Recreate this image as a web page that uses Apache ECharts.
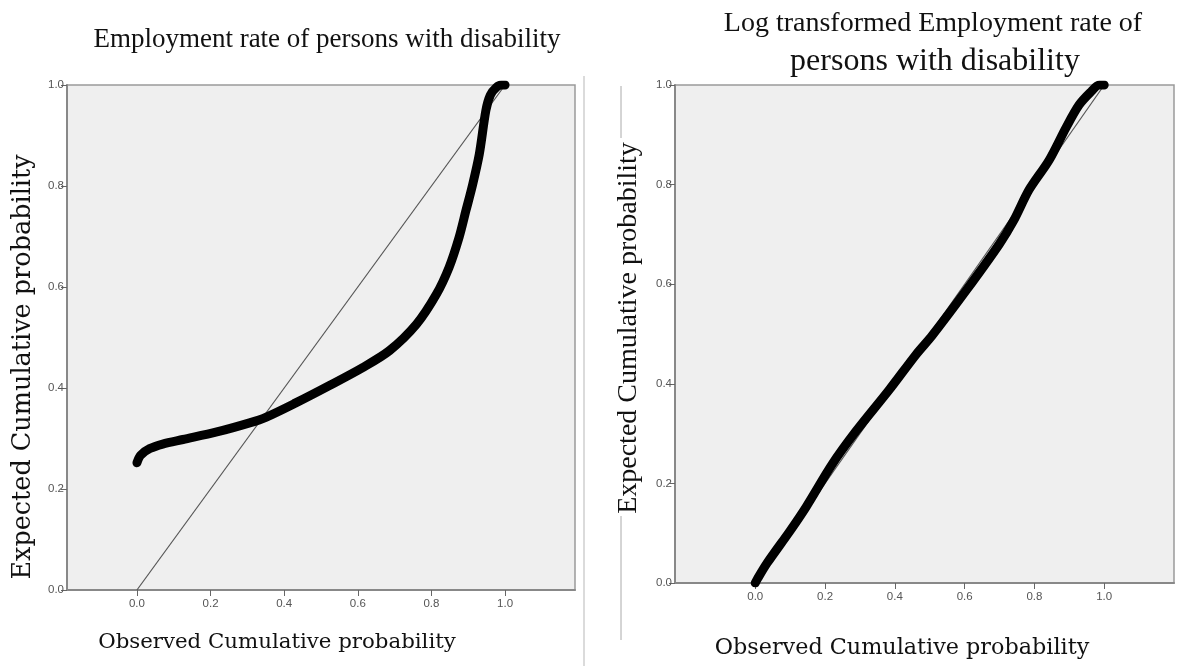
<!DOCTYPE html>
<html>
<head>
<meta charset="utf-8">
<script src="https://cdn.jsdelivr.net/npm/echarts@6/dist/echarts.min.js"></script>
<style>html,body{margin:0;padding:0;background:#fff;}#c{width:1185px;height:666px;}</style>
</head>
<body>
<div id="c"></div>
<script>
// ---- data ----
const leftTitle = 'Employment rate of persons with disability';
const rightTitleLine1 = 'Log transformed Employment rate of';
const rightTitleLine2 = 'persons with disability';
const xName = 'Observed Cumulative probability';
const yName = 'Expected Cumulative probability';
const tickValues = [0, 0.2, 0.4, 0.6, 0.8, 1.0];

// Left panel (raw employment rate) P-P points
const leftObserved = [0.0, 0.01, 0.035, 0.07, 0.125, 0.217, 0.306, 0.35, 0.43, 0.523, 0.612, 0.686, 0.759, 0.813, 0.848, 0.875, 0.894, 0.911, 0.93, 0.948, 0.96, 0.976, 0.99, 1.0];
const leftExpected = [0.252, 0.267, 0.28, 0.289, 0.298, 0.313, 0.331, 0.342, 0.37, 0.405, 0.44, 0.474, 0.526, 0.585, 0.639, 0.698, 0.752, 0.80, 0.863, 0.95, 0.98, 0.995, 1.0, 1.0];

// Right panel (log transformed) P-P points
const rightObserved = [0.0, 0.006, 0.034, 0.1, 0.146, 0.22, 0.289, 0.384, 0.461, 0.507, 0.605, 0.699, 0.74, 0.785, 0.842, 0.891, 0.928, 0.96, 0.986, 1.0];
const rightExpected = [0.0, 0.008, 0.04, 0.105, 0.153, 0.238, 0.305, 0.388, 0.459, 0.497, 0.588, 0.68, 0.727, 0.79, 0.849, 0.915, 0.96, 0.985, 1.0, 1.0];

// Reference (diagonal) line
const diagonal = [[0, 0], [1, 1]];

const zip = (a, b) => a.map((v, i) => [v, b[i]]);

const chart = echarts.init(document.getElementById('c'), null, {renderer: 'canvas'});

const tickLabel = {
  color: '#555', fontSize: 11.5, fontFamily: "'Liberation Sans Narrow','Liberation Sans',Arial,sans-serif",
  formatter: v => v.toFixed(1)
};
const serifTimes = "'Liberation Serif','Times New Roman',serif";
const serifWide = "'DejaVu Serif',serif";

function xAxis(idx, min, max) {
  return {
    type: 'value', gridIndex: idx, min: min, max: max,
    splitLine: {show: false},
    axisLine: {show: true, onZero: false, lineStyle: {color: '#888', width: 2}},
    axisTick: {show: true, length: 6, customValues: tickValues, lineStyle: {color: '#666'}},
    axisLabel: Object.assign({customValues: tickValues, margin: 8}, tickLabel)
  };
}
function yAxis(idx) {
  return {
    type: 'value', gridIndex: idx, min: 0, max: 1,
    splitLine: {show: false},
    axisLine: {show: true, onZero: false, lineStyle: {color: '#888', width: 2}},
    axisTick: {show: true, length: 6, customValues: tickValues, lineStyle: {color: '#666'}},
    axisLabel: Object.assign({customValues: tickValues, margin: 3}, tickLabel)
  };
}

const option = {
  backgroundColor: '#ffffff',
  animation: false,
  title: [
    {text: leftTitle, left: 322, top: 21, textAlign: 'center',
     textStyle: {fontFamily: serifTimes, fontWeight: 'normal', fontSize: 27, color: '#111'}},
    {text: rightTitleLine1, left: 928, top: 5, textAlign: 'center',
     textStyle: {fontFamily: serifTimes, fontWeight: 'normal', fontSize: 28, color: '#111'}},
    {text: rightTitleLine2, left: 930, top: 41, textAlign: 'center',
     textStyle: {fontFamily: serifTimes, fontWeight: 'normal', fontSize: 32, color: '#111'}}
  ],
  grid: [
    {left: 67, top: 85, width: 508, height: 505, show: true, backgroundColor: '#efefef', borderColor: '#9a9a9a', borderWidth: 1.5},
    {left: 675, top: 85, width: 499, height: 498, show: true, backgroundColor: '#efefef', borderColor: '#9a9a9a', borderWidth: 1.5}
  ],
  xAxis: [xAxis(0, -0.19, 1.19), xAxis(1, -0.23, 1.2)],
  yAxis: [yAxis(0), yAxis(1)],
  graphic: [
    {type: 'line', shape: {x1: 584, y1: 76, x2: 584, y2: 666}, style: {stroke: '#cfcfcf', lineWidth: 1.5}, silent: true},
    {type: 'line', shape: {x1: 621, y1: 86, x2: 621, y2: 138}, style: {stroke: '#aaaaaa', lineWidth: 1}, silent: true},
    {type: 'line', shape: {x1: 621, y1: 516, x2: 621, y2: 640}, style: {stroke: '#aaaaaa', lineWidth: 1}, silent: true},
    // axis titles
    {type: 'text', x: 277, y: 642, silent: true,
     style: {text: xName, fontFamily: serifWide, fontSize: 21.3, fill: '#111', align: 'center', verticalAlign: 'middle'}},
    {type: 'text', x: 902, y: 648, silent: true,
     style: {text: xName, fontFamily: serifWide, fontSize: 22.3, fill: '#111', align: 'center', verticalAlign: 'middle'}},
    {type: 'text', x: 23, y: 367, rotation: Math.PI / 2, silent: true,
     style: {text: yName, fontFamily: serifWide, fontSize: 25.5, fill: '#111', align: 'center', verticalAlign: 'middle'}},
    {type: 'text', x: 629, y: 328, rotation: Math.PI / 2, silent: true,
     style: {text: yName, fontFamily: serifTimes, fontSize: 28, fill: '#111', align: 'center', verticalAlign: 'middle'}}
  ],
  series: [
    {type: 'line', xAxisIndex: 0, yAxisIndex: 0, data: diagonal, symbol: 'none',
     lineStyle: {color: '#555', width: 1.2}, z: 2},
    {type: 'line', xAxisIndex: 0, yAxisIndex: 0, data: zip(leftObserved, leftExpected), symbol: 'none', smooth: 0.3,
     lineStyle: {color: '#000', width: 9, cap: 'round', join: 'round'}, z: 3},
    {type: 'line', xAxisIndex: 1, yAxisIndex: 1, data: diagonal, symbol: 'none',
     lineStyle: {color: '#555', width: 1.2}, z: 2},
    {type: 'line', xAxisIndex: 1, yAxisIndex: 1, data: zip(rightObserved, rightExpected), symbol: 'none', smooth: 0.3,
     lineStyle: {color: '#000', width: 9, cap: 'round', join: 'round'}, z: 3}
  ]
};
chart.setOption(option);
</script>
</body>
</html>
